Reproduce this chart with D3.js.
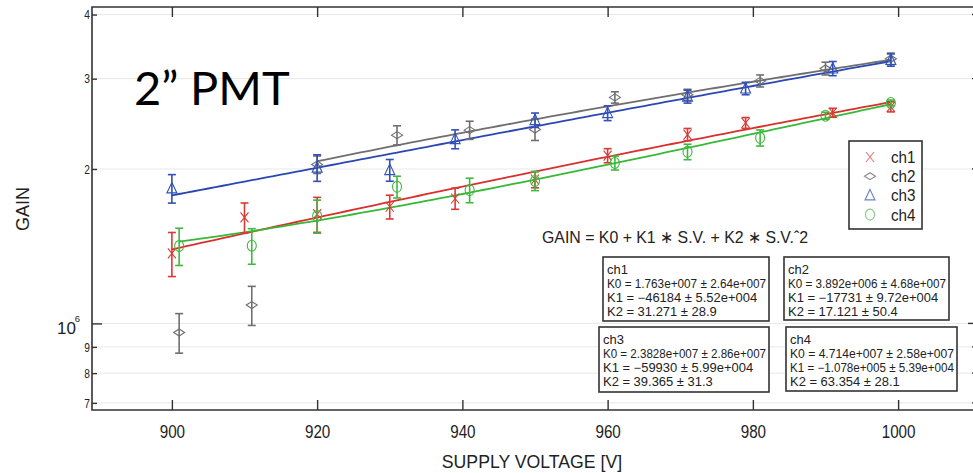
<!DOCTYPE html>
<html>
<head>
<meta charset="utf-8">
<script src="https://cdn.jsdelivr.net/npm/d3@7"></script>
<style>
  html, body { margin: 0; padding: 0; background: #fff; }
  svg { display: block; }
  .narrow, .reg { font-family: "Liberation Sans", Arial, sans-serif; }
</style>
</head>
<body>
<svg id="chart" width="973" height="473"></svg>
<script>
// ---- measured gain (x 10^6) with ± errors, per channel ----
const CHANNELS = ["ch1", "ch2", "ch3", "ch4"];

const VOLT_CH1 = [900, 910, 920, 930, 939, 950, 960, 971, 979, 991, 999];
const GAIN_CH1 = [1.369, 1.609, 1.633, 1.688, 1.752, 1.908, 2.124, 2.334, 2.460, 2.574, 2.644];
const ERR_CH1  = [0.135, 0.108, 0.128, 0.090, 0.083, 0.070, 0.067, 0.065, 0.060, 0.052, 0.060];

const VOLT_CH2 = [901, 911, 920, 931, 941, 950, 961, 971, 981, 990, 999];
const GAIN_CH2 = [0.960, 1.086, 2.040, 2.328, 2.381, 2.388, 2.758, 2.790, 2.970, 3.140, 3.280];
const ERR_CH2  = [0.085, 0.095, 0.080, 0.100, 0.097, 0.115, 0.070, 0.070, 0.080, 0.090, 0.085];

const VOLT_CH3 = [900, 920, 930, 939, 950, 960, 971, 979, 991, 999];
const GAIN_CH3 = [1.833, 2.012, 1.990, 2.287, 2.491, 2.570, 2.768, 2.871, 3.140, 3.262];
const ERR_CH3  = [0.117, 0.120, 0.097, 0.097, 0.080, 0.085, 0.080, 0.080, 0.100, 0.090];

const VOLT_CH4 = [901, 911, 920, 931, 941, 950, 961, 971, 981, 990, 999];
const GAIN_CH4 = [1.415, 1.417, 1.619, 1.846, 1.819, 1.895, 2.055, 2.160, 2.300, 2.540, 2.690];
const ERR_CH4  = [0.118, 0.113, 0.120, 0.090, 0.100, 0.080, 0.064, 0.075, 0.083, 0.040, 0.035];

// ---- quadratic fit GAIN = K0 + K1*V + K2*V^2 ----
const FIT_K0 = [1.763e7, 3.892e6, 2.3828e7, 4.714e7];
const FIT_K1 = [-46184, -17731, -59930, -1.078e5];
const FIT_K2 = [31.271, 17.121, 39.365, 63.354];
const FIT_FROM = [900, 920, 900, 901];
const FIT_TO   = [999, 999, 999, 999];

const FIT_TEXT_K0 = ["K0 = 1.763e+007 \u00b1 2.64e+007", "K0 = 3.892e+006 \u00b1 4.68e+007",
                     "K0 = 2.3828e+007 \u00b1 2.86e+007", "K0 = 4.714e+007 \u00b1 2.58e+007"];
const FIT_TEXT_K1 = ["K1 = \u221246184 \u00b1 5.52e+004", "K1 = \u221217731 \u00b1 9.72e+004",
                     "K1 = \u221259930 \u00b1 5.99e+004", "K1 = \u22121.078e+005 \u00b1 5.39e+004"];
const FIT_TEXT_K2 = ["K2 = 31.271 \u00b1 28.9", "K2 = 17.121 \u00b1 50.4",
                     "K2 = 39.365 \u00b1 31.3", "K2 = 63.354 \u00b1 28.1"];

// ---- axis ticks ----
const X_TICKS = [900, 920, 940, 960, 980, 1000];
const Y_TICKS = [0.7e6, 0.8e6, 0.9e6, 1e6, 2e6, 3e6, 4e6];
const Y_TICK_LABELS = ["7", "8", "9", "10", "2", "3", "4"];

const TITLE = "2\u201d PMT";
const EQUATION = "GAIN = K0 + K1 \u2217 S.V. + K2 \u2217 S.V.\u02c62";

// ---- styling ----
const LINE_COLORS   = ["#d8302c", "#6f6f6f", "#2a47b3", "#38b838"];
const MARK_COLORS   = ["#d83a36", "#6f6f6f", "#3150b8", "#40b840"];
const LEGEND_COLORS = ["#e27a78", "#8a8a8a", "#6a84c8", "#7ccc7c"];

// squeeze or stretch text horizontally to a narrow-face width
function condense(sel, factor, maxLen) {
  sel.each(function () {
    let len = this.getComputedTextLength() * factor;
    if (maxLen) len = Math.min(len, maxLen);
    d3.select(this).attr("textLength", len).attr("lengthAdjust", "spacingAndGlyphs");
  });
}

const series = [
  { v: VOLT_CH1, g: GAIN_CH1, e: ERR_CH1 },
  { v: VOLT_CH2, g: GAIN_CH2, e: ERR_CH2 },
  { v: VOLT_CH3, g: GAIN_CH3, e: ERR_CH3 },
  { v: VOLT_CH4, g: GAIN_CH4, e: ERR_CH4 }
].map((s, i) => ({
  name: CHANNELS[i],
  points: s.v.map((v, j) => ({ v, g: s.g[j] * 1e6, e: s.e[j] * 1e6 }))
}));

const svg = d3.select("#chart");
const frame = { left: 92, right: 978, top: 7, bottom: 410 };

const x = d3.scaleLinear().domain([889, 1011]).range([frame.left, frame.right]);
const y = d3.scaleLog().domain([0.678e6, 4.138e6]).range([frame.bottom, frame.top]);

// horizontal grid
svg.append("g").selectAll("line").data(Y_TICKS).join("line")
  .attr("x1", frame.left).attr("x2", frame.right)
  .attr("y1", d => y(d)).attr("y2", d => y(d))
  .attr("stroke", "#e8e8e8").attr("stroke-width", 1);

// frame
svg.append("path")
  .attr("d", `M${frame.right},${frame.top}H${frame.left}V${frame.bottom}H${frame.right}`)
  .attr("fill", "none").attr("stroke", "#333").attr("stroke-width", 1.6);

// x axis (ticks point inward, top and bottom)
const xBottom = d3.axisBottom(x).tickValues(X_TICKS).tickSize(-10).tickPadding(15).tickFormat(d3.format("d"));
const gxb = svg.append("g").attr("transform", `translate(0,${frame.bottom})`).call(xBottom);
gxb.select(".domain").remove();
gxb.selectAll(".tick line").attr("stroke", "#333").attr("stroke-width", 1.4);
gxb.selectAll(".tick text").attr("class", "narrow").attr("font-size", 19).attr("fill", "#222");
gxb.attr("font-family", null);
condense(gxb.selectAll(".tick text"), 0.8);

const xTop = d3.axisTop(x).tickValues(X_TICKS).tickSize(-10).tickFormat("");
const gxt = svg.append("g").attr("transform", `translate(0,${frame.top})`).call(xTop);
gxt.select(".domain").remove();
gxt.selectAll(".tick line").attr("stroke", "#333").attr("stroke-width", 1.4);

// y axis (log, inward ticks left and right)
const yLeft = d3.axisLeft(y).tickValues(Y_TICKS).tickSize(0).tickFormat("");
const gyl = svg.append("g").attr("transform", `translate(${frame.left},0)`).call(yLeft);
gyl.select(".domain").remove();
gyl.selectAll(".tick").append("line")
  .attr("x1", 0).attr("x2", d => d === 1e6 ? 10 : 5)
  .attr("stroke", "#333").attr("stroke-width", 1.4);
const ylab = gyl.selectAll(".tick").filter(d => d !== 1e6).append("text")
  .attr("class", "narrow")
  .attr("x", -2).attr("dy", "0.35em")
  .attr("text-anchor", "end")
  .attr("font-size", 12)
  .attr("fill", "#222")
  .text(d => Y_TICK_LABELS[Y_TICKS.indexOf(d)]);
condense(ylab, 0.85);
const decade = gyl.selectAll(".tick").filter(d => d === 1e6);
decade.append("text")
  .attr("class", "narrow").attr("x", -16).attr("y", 10)
  .attr("text-anchor", "end").attr("font-size", 17).attr("fill", "#222")
  .text(Y_TICK_LABELS[Y_TICKS.indexOf(1e6)]);
decade.append("text")
  .attr("class", "narrow").attr("x", -12).attr("y", -2)
  .attr("font-size", 9.5).attr("fill", "#222").text("6");

const gyr = svg.append("g").attr("transform", `translate(${frame.right},0)`);
gyr.selectAll("line").data(Y_TICKS).join("line")
  .attr("x1", d => d === 1e6 ? -10 : -6).attr("x2", 0)
  .attr("y1", d => y(d)).attr("y2", d => y(d))
  .attr("stroke", "#333").attr("stroke-width", 1.4);

// axis titles
svg.append("text").attr("class", "reg")
  .attr("transform", `translate(29,209) rotate(-90)`)
  .attr("text-anchor", "middle").attr("font-size", 18).attr("fill", "#222")
  .text("GAIN");
const xt = svg.append("text").attr("class", "reg")
  .attr("x", 532).attr("y", 468).attr("text-anchor", "middle")
  .attr("font-size", 19).attr("fill", "#222")
  .text("SUPPLY VOLTAGE [V]");
condense(xt, 0.93);

// marker shapes
function drawMarker(sel, i, color, sw) {
  if (i === 0) {
    sel.append("path").attr("d", "M-4,-5L4,5M-4,5L4,-5")
      .attr("stroke", color).attr("stroke-width", sw).attr("fill", "none");
  } else if (i === 1) {
    sel.append("path").attr("d", "M-5.5,0L0,-3.5L5.5,0L0,3.5Z")
      .attr("stroke", color).attr("stroke-width", sw).attr("fill", "none");
  } else if (i === 2) {
    sel.append("path").attr("d", "M0,-6L5,4.5L-5,4.5Z")
      .attr("stroke", color).attr("stroke-width", sw).attr("fill", "none");
  } else {
    sel.append("ellipse").attr("rx", 4.5).attr("ry", 5.5)
      .attr("stroke", color).attr("stroke-width", sw).attr("fill", "none");
  }
}

// fit curves
const line = d3.line().x(d => x(d[0])).y(d => y(d[1]));
series.forEach((s, i) => {
  const pts = d3.range(FIT_FROM[i], FIT_TO[i] + 0.5, 1)
    .map(v => [v, FIT_K0[i] + FIT_K1[i] * v + FIT_K2[i] * v * v]);
  svg.append("path").datum(pts).attr("d", line)
    .attr("fill", "none").attr("stroke", LINE_COLORS[i]).attr("stroke-width", 1.8);
});

// error bars and markers
series.forEach((s, i) => {
  const g = svg.append("g");
  const pt = g.selectAll("g").data(s.points).join("g")
    .attr("transform", d => `translate(${x(d.v)},0)`);
  pt.append("line")
    .attr("y1", d => y(d.g - d.e)).attr("y2", d => y(d.g + d.e))
    .attr("stroke", MARK_COLORS[i]).attr("stroke-width", 1.6);
  pt.append("line").attr("x1", -4).attr("x2", 4)
    .attr("y1", d => y(d.g + d.e)).attr("y2", d => y(d.g + d.e))
    .attr("stroke", MARK_COLORS[i]).attr("stroke-width", 1.6);
  pt.append("line").attr("x1", -4).attr("x2", 4)
    .attr("y1", d => y(d.g - d.e)).attr("y2", d => y(d.g - d.e))
    .attr("stroke", MARK_COLORS[i]).attr("stroke-width", 1.6);
  pt.each(function (d) {
    const m = d3.select(this).append("g").attr("transform", `translate(0,${y(d.g)})`);
    drawMarker(m, i, MARK_COLORS[i], 1.1);
  });
});

// legend
const legend = svg.append("g");
legend.append("rect").attr("x", 849).attr("y", 141).attr("width", 73).attr("height", 88)
  .attr("fill", "#fff").attr("stroke", "#333").attr("stroke-width", 1.6);
CHANNELS.forEach((c, i) => {
  const ly = 157 + i * 19.2;
  const m = legend.append("g").attr("transform", `translate(870,${ly})`);
  drawMarker(m, i, LEGEND_COLORS[i], 1.1);
  const t = legend.append("text").attr("class", "narrow").attr("x", 891).attr("y", ly).attr("dy", "0.36em")
    .attr("font-size", 16.5).attr("fill", "#222").text(c);
  condense(t, 0.92);
});

// fit equation and parameter boxes
const eq = svg.append("text").attr("class", "narrow").attr("x", 542).attr("y", 243)
  .attr("font-size", 17).attr("fill", "#222").text(EQUATION);
eq.attr("textLength", 266).attr("lengthAdjust", "spacingAndGlyphs");

const BOXES = [
  { x: 603, y: 257, w: 166, h: 64 },
  { x: 784, y: 257, w: 165, h: 63 },
  { x: 599, y: 327, w: 170, h: 65 },
  { x: 786, y: 327, w: 171, h: 64 }
];
BOXES.forEach((b, i) => {
  const g = svg.append("g");
  g.append("rect").attr("x", b.x).attr("y", b.y).attr("width", b.w).attr("height", b.h)
    .attr("fill", "#fff").attr("stroke", "#333").attr("stroke-width", 1.6);
  [CHANNELS[i], FIT_TEXT_K0[i], FIT_TEXT_K1[i], FIT_TEXT_K2[i]].forEach((t, k) => {
    const tx = g.append("text").attr("class", "narrow")
      .attr("x", b.x + 4).attr("y", b.y + 16.5 + k * 14)
      .attr("font-size", 12).attr("fill", "#222").text(t);
    condense(tx, 1.08, b.w - 7);
  });
});

// title
svg.append("text").attr("x", 134).attr("y", 105)
  .attr("font-family", "Lato, 'Open Sans', sans-serif")
  .attr("font-size", 47).attr("fill", "#000").text(TITLE);
</script>
</body>
</html>
